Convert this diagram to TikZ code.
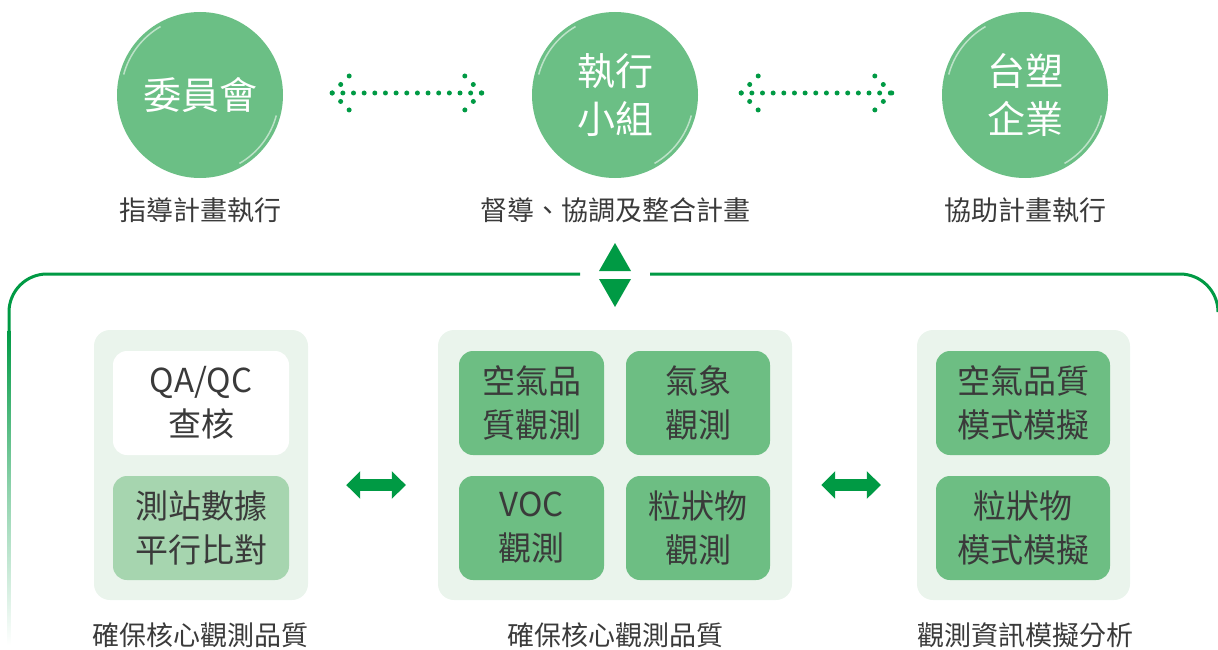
\documentclass[tikz,border=0pt]{standalone}
\usepackage{fontspec}
\setmainfont{Noto Sans CJK TC}
\usetikzlibrary{arrows.meta}
\definecolor{circg}{HTML}{6BBF85}
\definecolor{lineg}{HTML}{009A44}
\definecolor{panelbg}{HTML}{EAF4EC}
\definecolor{lightg}{HTML}{A6D5AF}
\definecolor{midg}{HTML}{6DBE83}
\definecolor{txt}{HTML}{3A3A3A}
\begin{document}
\begin{tikzpicture}[x=1pt,y=-1pt,
 circ/.style={circle, fill=circg, minimum size=166pt, inner sep=0pt, text=white, font=\fontsize{38}{48}\selectfont, align=center},
 caption/.style={text=txt, font=\fontsize{27}{30}\selectfont, inner sep=0pt},
 panel/.style={fill=panelbg, rounded corners=16pt, inner sep=0pt, minimum height=270pt},
 box/.style={rounded corners=14pt, inner sep=0pt, minimum height=104pt, text=txt, align=center, font=\fontsize{33}{44}\selectfont},
 dotline/.style={draw=lineg, line width=5pt, line cap=round, dash pattern=on 0pt off 10.65pt},
 chev/.style={draw=lineg, line width=5pt, line cap=round, dash pattern=on 0pt off 12pt},
 blockarr/.style={draw=lineg, line width=12pt, {Triangle[length=14pt,width=27pt]}-{Triangle[length=14pt,width=27pt]}},
 gloss/.style={draw=white, line width=1.5pt, opacity=0.55},
]
\useasboundingbox (0,0) rectangle (1218,650);

% top circles
\node[circ] (wy) at (200,95) {委員會};
\node[circ] (zx) at (615,95) {執行\\小組};
\node[circ] (ts) at (1025,95) {台塑\\企業};
\foreach \c in {wy,zx,ts}{
  \draw[gloss] (\c.center) ++(195:79) arc[start angle=195, end angle=240, radius=79];
  \draw[gloss] (\c.center) ++(15:79) arc[start angle=15, end angle=60, radius=79];
}

% captions under circles
\node[caption] (c1) at (200,210) {指導計畫執行};
\node[caption] (c2) at (615,210) {督導、協調及整合計畫};
\node[caption] (c3) at (1025,210) {協助計畫執行};

% dotted double arrows
\coordinate (d1s) at ([xshift=49pt,yshift=2pt]wy.east);
\coordinate (d1e) at ([xshift=-50pt,yshift=2pt]zx.west);
\coordinate (d2s) at ([xshift=43pt,yshift=2pt]zx.east);
\coordinate (d2e) at ([xshift=-50pt,yshift=2pt]ts.west);
\foreach \s/\e in {d1s/d1e,d2s/d2e}{
  \path[dotline] (\s) -- (\e);
  \path[chev] ([shift={(17,-17)}]\s) -- (\s) -- ([shift={(17,17)}]\s);
  \path[chev] ([shift={(-17,-17)}]\e) -- (\e) -- ([shift={(-17,17)}]\e);
}

% frame line
\draw[lineg, line width=3pt] (580,274) -- (47,274) arc[start angle=270, end angle=180, radius=38] -- (9,330);
\shade[top color=lineg, bottom color=white, middle color=lineg!45] (7.5,330) rectangle (10.5,645);
\draw[lineg, line width=3pt] (650,274) -- (1180,274) arc[start angle=270, end angle=360, radius=38];

% up/down triangles
\fill[lineg] (615,243) -- (631,271) -- (599,271) -- cycle;
\fill[lineg] (599,279) -- (631,279) -- (615,307) -- cycle;

% panels
\node[panel, minimum width=214pt] (p1) at (201,465) {};
\node[panel, minimum width=354pt] (p2) at (615,465) {};
\node[panel, minimum width=213pt] (p3) at (1023.5,465) {};

% left panel boxes
\node[box, fill=white, minimum width=176pt] (qa) at (201,403) {QA/QC\\查核};
\node[box, fill=lightg, minimum width=176pt] (cz) at (201,528) {測站數據\\平行比對};

% middle panel boxes
\node[box, fill=midg, minimum width=145pt] (kq) at (531.5,403) {空氣品\\質觀測};
\node[box, fill=midg, minimum width=144pt] (qx) at (698,403) {氣象\\觀測};
\node[box, fill=midg, minimum width=145pt] (voc) at (531.5,528) {VOC\\觀測};
\node[box, fill=midg, minimum width=144pt] (lz) at (698,528) {粒狀物\\觀測};

% right panel boxes
\node[box, fill=midg, minimum width=174pt] (ms1) at (1023,403) {空氣品質\\模式模擬};
\node[box, fill=midg, minimum width=174pt] (ms2) at (1023,528) {粒狀物\\模式模擬};

% block arrows between panels
\draw[blockarr] ([xshift=38pt,yshift=-20pt]p1.east) -- ([xshift=-32pt,yshift=-20pt]p2.west);
\draw[blockarr] ([xshift=29pt,yshift=-20pt]p2.east) -- ([xshift=-36pt,yshift=-20pt]p3.west);

% bottom captions
\node[caption] (b1) at (200,635) {確保核心觀測品質};
\node[caption] (b2) at (615,635) {確保核心觀測品質};
\node[caption] (b3) at (1025,635) {觀測資訊模擬分析};
\end{tikzpicture}
\end{document}
